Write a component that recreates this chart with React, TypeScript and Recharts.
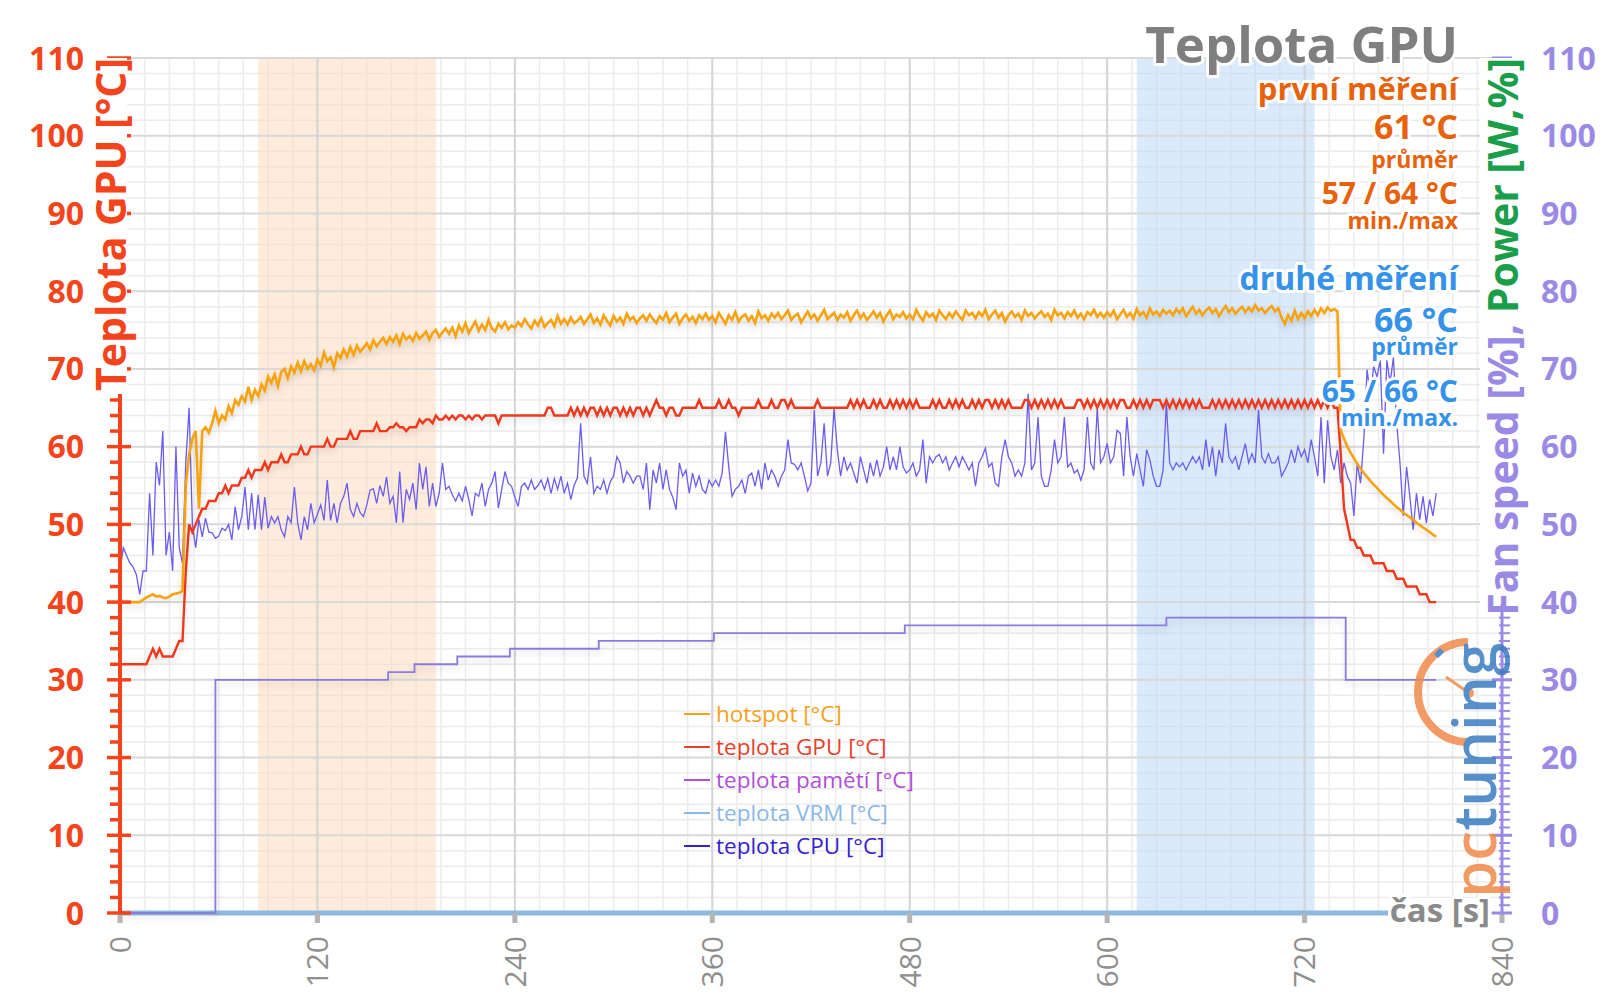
import {
  ComposedChart,
  Line,
  XAxis,
  YAxis,
  CartesianGrid,
  ReferenceArea,
  ReferenceLine,
} from "recharts";

const FONT = '"Open Sans", "Noto Sans", sans-serif';
const RED = "#f4441c";
const LAV = "#9b89e6";
const ORANGE_TXT = "#e8620c";
const BLUE_TXT = "#3592ea";

// vzorky po 2 s
const STEP = 2;

const HOTSPOT = [
  40, 40, 40, 40, 40, 40, 40, 40.3, 40.6, 40.8, 41, 40.7, 40.8, 40.6, 40.5, 40.7, 41, 41.1, 41.2, 41.4,
  55, 59, 61, 62, 52, 62, 62.5, 61.8, 63, 64.6, 63, 64, 63.5, 65.2, 64.3, 66, 65.4, 66.5, 65.8, 67.7,
  66, 67.3, 66.5, 68, 67.2, 69, 68.2, 69.3, 67.8, 69.6, 70, 68.8, 70.3, 69.5, 70.8, 69.7, 71, 70, 70.6, 69.8,
  71.2, 70.4, 72.1, 71, 71.5, 70.2, 72, 71.4, 72.5, 71.6, 72.8, 71.8, 73, 72.2, 72.7, 73.3, 72.5, 73.7, 72.9, 73.5,
  74, 73.2, 74.1, 73.5, 74.3, 73.2, 74.5, 73.8, 74.2, 73.6, 74.6, 73.9, 74.3, 74.8, 73.8, 74.6, 75, 74.1, 74.7, 75.2,
  74.5, 75.3, 74.2, 75.6, 74.8, 75.9, 74.6, 75.4, 76.1, 74.9, 75.7, 75, 76.3, 75.2, 74.8, 75.8, 75.3, 76, 75.1, 75.6,
  75.3, 76, 75.5, 76.4, 75.7, 75.2, 76.2, 75.6, 76.5, 75.4, 75.9, 76.3, 75.5, 76.8, 75.8, 76.4, 75.7, 76.6, 75.9, 76.2,
  76.7, 75.8, 76.4, 77, 75.9, 76.5, 75.7, 76.9, 76.2, 75.6, 76.8, 76.1, 76.6, 75.8, 77.1, 76.3, 76.7, 75.9, 76.5, 76.9,
  76.2, 77, 76.4, 75.9, 76.8, 76.3, 77.2, 76, 76.6, 77.1, 75.8, 76.5, 77, 76.2, 76.7, 75.9, 76.9, 76.4, 77.1, 76.3,
  76.8, 76, 77.2, 76.5, 75.8, 76.9, 76.3, 77.3, 76.1, 76.7, 77, 76.2, 76.8, 75.9, 77.4, 76.5, 76.9, 76.2, 77.1, 76.6,
  77.2, 76.4, 76.9, 77.5, 76.3, 76.8, 77.1, 76, 76.7, 77.4, 76.5, 77, 76.2, 76.9, 77.6, 76.4, 76.8, 77.2, 76.3, 77,
  76.6, 77.3, 76.2, 76.9, 77.5, 76.5, 77.1, 76.3, 76.8, 77.4, 76.6, 77.2, 76.1, 76.9, 77.5, 76.4, 77, 76.7, 77.3, 76.5,
  77, 76.4, 77.6, 76.8, 76.2, 77.3, 76.7, 77.1, 76.3, 77.5, 76.9, 76.4, 77.2, 76.6, 77.4, 76.8, 76.3, 77.5, 76.9, 77.2,
  76.5, 77.3, 76.8, 77.6, 76.4, 77, 77.5, 76.6, 77.2, 76.1, 76.9, 77.4, 76.7, 77.1, 76.3, 77.5, 76.8, 77.2, 76.5, 77,
  77.4, 76.7, 77.1, 76.3, 77.6, 76.9, 77.2, 76.5, 77.3, 76.8, 77.5, 76.6, 77.1, 76.4, 77.3, 76.9, 77.6, 76.7, 77.2, 76.6,
  77.3, 76.8, 77.5, 76.4, 77, 77.6, 76.7, 77.2, 76.5, 77.7, 76.9, 77.3, 76.6, 77.8, 77, 77.4, 76.8, 77.6, 77.1, 77.5,
  76.9, 77.7, 77.2, 77.8, 76.8, 77.4, 78, 77.1, 77.6, 76.9, 77.5, 77.9, 77.2, 77.7, 76.8, 77.5, 78.1, 77.3, 77.8, 77.1,
  77.6, 78, 77.3, 77.9, 77.4, 78.2, 77.5, 77.8, 77.2, 77.7, 78.1, 77.4, 77.8, 76.6, 75.8, 76.9, 76.2, 77.5, 76.4, 77.2,
  76.5, 77.4, 76.8, 77.6, 76.9, 77.8, 77.2, 77.9, 77.5, 77.7, 77.4, 62, 61, 60, 59.2, 58.5, 57.8, 57.2, 56.6, 56.1,
  55.6, 55.1, 54.7, 54.2, 53.8, 53.4, 53, 52.6, 52.2, 51.9, 51.5, 51.2, 50.9, 50.6, 50.2, 49.9, 49.6, 49.3, 49, 48.7,
  48.4,
];

const GPU = [
  32, 32, 32, 32, 32, 32, 32, 32, 32, 33, 34, 33, 34, 33, 33, 33, 33, 34, 35, 35,
  44, 50, 49, 50, 51, 52, 52, 53, 53, 53, 54, 54, 55, 54, 55, 55, 55, 56, 56, 57,
  56, 57, 57, 57, 58, 57, 58, 58, 58, 59, 58, 58, 59, 59, 59, 60, 59, 59, 60, 60,
  60, 60, 60, 61, 60, 60, 61, 61, 61, 61, 62, 61, 61, 62, 62, 62, 62, 62, 63, 62,
  62, 62, 62.5, 62.5, 63, 62.5, 62.5, 62, 62.5, 62.5, 62.5, 63.5, 63, 63.5, 63.5, 63, 64, 63.5, 63.5, 64,
  63.5, 64, 63.5, 64, 64, 63.5, 64, 63.5, 64, 64, 63.5, 64, 64, 64, 64, 63, 64, 64, 64, 64,
  64, 64, 64, 64, 64, 64, 64, 64, 64, 64, 65, 65, 64, 64, 64, 64, 64, 65, 64, 65,
  64, 65, 64, 65, 65, 64, 65, 64, 65, 64, 65, 65, 64, 65, 64, 65, 64, 65, 65, 64,
  65, 64, 65, 66, 65, 65, 64, 65, 65, 64, 64, 65, 65, 65, 65, 65, 66, 65, 65, 65,
  65, 65, 66, 65, 65, 66, 65, 65, 64, 65, 65, 65, 65, 65, 66, 65, 65, 65, 66, 65,
  65, 66, 66, 65, 66, 65, 65, 65, 65, 65, 65, 65, 66, 65, 65, 65, 65, 65, 65, 65,
  65, 65, 66, 65, 66, 65, 66, 65, 65, 66, 65, 66, 65, 65, 66, 65, 66, 65, 66, 65,
  66, 65, 66, 65, 65, 65, 65, 66, 65, 66, 65, 65, 66, 65, 66, 65, 66, 65, 65, 66,
  65, 66, 65, 66, 66, 65, 66, 65, 66, 65, 66, 65, 65, 65, 65, 66, 66, 65, 66, 65,
  66, 65, 66, 65, 66, 65, 66, 65, 65, 65, 65, 66, 66, 65, 66, 65, 66, 65, 66, 65,
  66, 65, 66, 65, 66, 66, 65, 65, 66, 65, 66, 65, 66, 65, 66, 66, 66, 65, 66, 65,
  66, 65, 66, 65, 66, 65, 66, 65, 66, 65, 65, 65, 66, 65, 66, 65, 66, 65, 66, 65,
  66, 65, 66, 65, 66, 65, 66, 65, 66, 65, 66, 65, 66, 65, 66, 65, 66, 65, 66, 65,
  66, 65, 66, 65, 66, 65, 66, 65, 66, 65, 65, 59, 52, 50, 48, 48, 47, 47, 46, 46,
  46, 45, 45, 45, 45, 44, 44, 44, 43, 43, 43, 42, 42, 42, 42, 41, 41, 41, 40, 40,
  40,
];

const CPU = [
  44, 47, 46, 45, 44.5, 43.5, 41, 44, 44, 54, 46, 58, 55, 62, 46, 49, 44, 60, 47, 45,
  58, 65, 50, 47, 50.6, 48.4, 50.8, 49, 48.9, 48.2, 48.5, 49.5, 49.2, 50, 48, 52.3, 49.3, 51, 54.8, 49.3,
  54, 49.3, 53.8, 49.3, 53.5, 49.5, 51, 50.2, 51, 49.3, 48.4, 51, 50.2, 54.8, 50.2, 48, 51, 49.3, 52.7, 50.2,
  51.3, 52.5, 50.5, 55.7, 50.5, 52.7, 50.2, 52.7, 53.6, 55.3, 51.9, 51, 52.7, 51.5, 51, 52.5, 54.4, 54.6, 52.7, 55,
  53.6, 56.1, 52.7, 53.6, 50.2, 56.8, 50.2, 54.5, 53.2, 55.3, 51.9, 57.9, 54.5, 57.4, 52.3, 55.3, 52.3, 54, 57.9, 54.5,
  54.9, 53.8, 53, 54, 53, 54.9, 53.2, 51.1, 54, 53.6, 55.3, 52.3, 54.5, 55.3, 56.8, 52.1, 54.5, 56.8, 55.3, 54.9,
  53.5, 52.3, 54.9, 55.3, 54.5, 55.7, 54.5, 55, 55.7, 54.5, 55.9, 54, 55.9, 54.5, 56.2, 54, 55.3, 53.2, 55, 56,
  63, 56.2, 55.3, 58.7, 54, 54.9, 54.5, 55.7, 54, 55.5, 56.2, 58.7, 57.9, 55.3, 56.8, 56.2, 55.3, 56.2, 56.2, 54.5,
  57.9, 51.9, 57, 55.3, 57.9, 54.5, 57, 54.5, 53.5, 51.9, 57.9, 56.2, 57, 54, 56.6, 54.9, 56.2, 54.5, 54, 55.7,
  54.9, 55.7, 54.9, 56.6, 61.9, 57.4, 53.6, 54.5, 54.9, 55.7, 54, 56.2, 56.6, 54.9, 57, 54.5, 57.9, 55.7, 57, 56.2,
  54.9, 56.2, 57, 60.9, 57.9, 57.7, 57, 57.9, 56.2, 54.3, 55.3, 64.7, 56.2, 57.9, 63, 56.2, 57.9, 64.9, 59.6, 56.2,
  58.7, 57, 57.9, 56.6, 55.3, 58.7, 57, 55.3, 57.9, 56.2, 58.3, 56.2, 57.4, 60, 57, 58.7, 57, 60, 57.4, 56.6,
  57, 57.9, 56.2, 57, 60.9, 55.3, 58.7, 57.9, 58.7, 59, 57.9, 58.7, 57, 57.9, 58.7, 57.4, 58.7, 57.9, 57, 57.9,
  54.9, 57.9, 58.7, 59.8, 57.4, 57.9, 55.3, 54.9, 58.7, 60.9, 58.7, 57.9, 56.2, 57, 56.2, 57.9, 66.8, 57, 57.9, 63.8,
  56.2, 54.9, 54.9, 57, 60.9, 57.9, 58.7, 63.8, 57.4, 57.9, 56.6, 57, 55.7, 57, 63.8, 57.9, 57, 64.9, 57.9, 58.7,
  60.4, 57.9, 58.7, 62.1, 61.7, 56.2, 63.8, 58.7, 56.2, 59.1, 57, 54.9, 59.6, 58.3, 56.2, 54.9, 54.9, 57, 65.5, 57.9,
  57, 57.9, 57.4, 57.9, 57, 57.9, 58.7, 57.9, 58.7, 57, 60.9, 57.4, 60, 56.2, 59.6, 57.9, 63, 58.7, 57.9, 58.7,
  57, 58.7, 60.4, 57.9, 59.1, 57.9, 64.7, 58.7, 57.9, 59.1, 57.9, 57.9, 58.7, 56.2, 57, 57.9, 59.6, 57.9, 60, 58.7,
  59.6, 57.9, 60.9, 58.7, 56.2, 63.8, 55.3, 63.4, 58.7, 57, 59.6, 55.3, 57.9, 56.2, 55.3, 51.1, 57.9, 55.3, 60.9, 69.9,
  66.5, 70.3, 69, 71.1, 59.1, 71.1, 68.2, 71.5, 63, 57.9, 51.1, 57.4, 53.6, 49.3, 54, 50.6, 53.6, 50.2, 53.2, 51.1,
  54,
];

// otáčky ventilátoru – body změny úrovně
const FAN_TIMES = [0, 58, 163, 179, 205, 237, 291, 361, 477, 636, 745, 800];
const FAN_VALUES = [0, 30, 31, 32, 33, 34, 35, 36, 37, 38, 30, 30];

const VRM_TIMES = [0, 800];
const VRM_VALUES = [0, 0];

const X_LABELS = [0, 120, 240, 360, 480, 600, 720, 840];
const Y_LABELS = [0, 10, 20, 30, 40, 50, 60, 70, 80, 90, 100, 110];

const FIRST_RUN = [84, 192];
const SECOND_RUN = [618, 726];

const LEGEND_LABELS = [
  "hotspot [°C]",
  "teplota GPU [°C]",
  "teplota pamětí [°C]",
  "teplota VRM [°C]",
  "teplota CPU [°C]",
];
const LEGEND_COLORS = ["#f5a21b", "#e8402a", "#b04fd8", "#8ab8e6", "#3520d0"];

const data = HOTSPOT.map((h, i) => ({ t: i * STEP, hotspot: h, gpu: GPU[i], cpu: CPU[i] }));
const fanData = FAN_TIMES.map((t, i) => ({ t, fan: FAN_VALUES[i] }));
const vrmData = VRM_TIMES.map((t, i) => ({ t, vrm: VRM_VALUES[i] }));

const X_GRID = Array.from({ length: 57 }, (_, i) => i * 15);
const L_TICKS = Array.from({ length: 56 }, (_, i) => i * 2);
const R_TICKS = Array.from({ length: 111 }, (_, i) => i);

function LeftTick({ x, y, payload }: any) {
  const v = payload.value;
  const major = v % 10 === 0;
  return (
    <g>
      <line x1={major ? x - 13 : x - 10} x2={major ? x + 11 : x} y1={y} y2={y} stroke={RED} strokeWidth={3.5} />
      {major && (
        <text x={x - 36} y={y} dy="0.36em" textAnchor="end" fill={RED} fontSize={32} fontWeight={700} fontFamily={FONT}>
          {v}
        </text>
      )}
    </g>
  );
}

function RightTick({ x, y, payload }: any) {
  const v = payload.value;
  const major = v % 10 === 0;
  return (
    <g>
      <line x1={major ? x - 10 : x - 3} x2={major ? x + 10 : x + 8} y1={y} y2={y} stroke={LAV} strokeWidth={major ? 3 : 2} />
      {major && (
        <text x={x + 39} y={y} dy="0.36em" textAnchor="start" fill={LAV} fontSize={32} fontWeight={700} fontFamily={FONT}>
          {v}
        </text>
      )}
    </g>
  );
}

function BottomTick({ x, y, payload }: any) {
  const v = payload.value;
  if (v % 120 !== 0) return <g />;
  return (
    <g>
      <rect x={x - 2.5} y={y} width={5} height={10} fill="#b4b4b4" />
      <text
        transform={`translate(${x},${y + 23}) rotate(-90)`}
        dy="0.36em"
        textAnchor="end"
        fill="#8f8f8f"
        fontSize={30}
        fontFamily={FONT}
      >
        {v}
      </text>
    </g>
  );
}

function Overlay() {
  const halo = { stroke: "#fff", strokeWidth: 6, paintOrder: "stroke" as const, strokeLinejoin: "round" as const };
  const right = 1458;
  return (
    <svg width={1600} height={1008} style={{ position: "absolute", left: 0, top: 0, pointerEvents: "none" }}>
      {/* logo */}
      <g opacity={0.85}>
        <path d="M 1468 642 A 50 50 0 0 0 1468 742" fill="none" stroke="#f08a4b" strokeWidth={8} />
        <line x1={1469} y1={693} x2={1446} y2={677} stroke="#f08a4b" strokeWidth={3} />
        <circle cx={1469} cy={693} r={5} fill="#f08a4b" />
        <line x1={1436} y1={656} x2={1442} y2={650} stroke="#3a7cc2" strokeWidth={6} />
        <text transform="translate(1496,898) rotate(-90)" fontSize={60} fontWeight={600} fontFamily={FONT}>
          <tspan fill="#f08a4b">pc</tspan>
          <tspan fill="#3a7cc2">tuning</tspan>
        </text>
      </g>

      {/* axis titles */}
      <rect x={92} y={58} width={35} height={336} fill="#fff" />
      <text transform="translate(126,58) rotate(-90)" textAnchor="end" fill={RED} fontSize={41} fontWeight={700} fontFamily={FONT}>
        Teplota GPU [°C]
      </text>
      <rect x={1480} y={58} width={42} height={546} fill="#fff" />
      <text transform="translate(1518,58) rotate(-90)" textAnchor="end" fontSize={41} fontWeight={700} fontFamily={FONT}>
        <tspan fill={LAV}>Fan speed [%], </tspan>
        <tspan fill="#1a9e4a">Power [W,%]</tspan>
      </text>

      {/* title + stats */}
      <g fontFamily={FONT} fontWeight={700} textAnchor="end">
        <text x={right} y={63} fontSize={51} fill="#7f7f7f" {...halo}>Teplota GPU</text>
        <text x={right} y={100} fontSize={31} fill={ORANGE_TXT} {...halo}>první měření</text>
        <text x={right} y={139} fontSize={34} fill={ORANGE_TXT} {...halo}>61 °C</text>
        <text x={right} y={168} fontSize={23} fill={ORANGE_TXT} {...halo}>průměr</text>
        <text x={right} y={204} fontSize={30} fill={ORANGE_TXT} {...halo}>57 / 64 °C</text>
        <text x={right} y={229} fontSize={23} fill={ORANGE_TXT} {...halo}>min./max</text>
        <text x={right} y={290} fontSize={32} fill={BLUE_TXT} {...halo}>druhé měření</text>
        <text x={right} y={332} fontSize={34} fill={BLUE_TXT} {...halo}>66 °C</text>
        <text x={right} y={355} fontSize={23} fill={BLUE_TXT} {...halo}>průměr</text>
        <text x={right} y={402} fontSize={30} fill={BLUE_TXT} {...halo}>65 / 66 °C</text>
        <text x={right} y={426} fontSize={23} fill={BLUE_TXT} {...halo}>min./max.</text>
      </g>

      {/* x axis title */}
      <rect x={1388} y={898} width={100} height={22} fill="#fff" />
      <text x={1490} y={922} textAnchor="end" fontSize={33} fontWeight={700} fill="#8a8a8a" fontFamily={FONT} {...halo}>
        čas [s]
      </text>

      {/* legend */}
      {LEGEND_LABELS.map((label, i) => (
        <g key={label}>
          <line x1={684} x2={710} y1={714 + i * 33} y2={714 + i * 33} stroke={LEGEND_COLORS[i]} strokeWidth={2} />
          <text x={716} y={714 + i * 33} dy="0.35em" fontSize={22.5} fill={LEGEND_COLORS[i]} fontFamily={FONT}>
            {label}
          </text>
        </g>
      ))}
    </svg>
  );
}

export default function App() {
  return (
    <div style={{ position: "absolute", left: 0, top: 0, width: 1600, height: 1008, background: "#fff" }}>
      <style>{`.shadowed .recharts-line-curve { filter: drop-shadow(0px 4px 3px rgba(0,0,0,0.14)); }`}</style>
      <ComposedChart width={1600} height={1008} data={data} margin={{ top: 58, right: 0, bottom: 0, left: 0 }}>
        <CartesianGrid yAxisId="l" stroke="#ececec" strokeWidth={1.5} />
        <XAxis
          dataKey="t"
          type="number"
          domain={[0, 840]}
          ticks={X_GRID}
          interval={0}
          height={95}
          tickSize={0}
          tickMargin={0}
          axisLine={false}
          tickLine={false}
          tick={<BottomTick />}
        />
        <YAxis
          yAxisId="l"
          orientation="left"
          width={120}
          domain={[0, 110]}
          ticks={L_TICKS}
          interval={0}
          tickSize={0}
          tickMargin={0}
          tickLine={false}
          axisLine={{ stroke: RED, strokeWidth: 4 }}
          tick={<LeftTick />}
        />
        <YAxis
          yAxisId="r"
          orientation="right"
          width={98}
          domain={[0, 110]}
          ticks={R_TICKS}
          interval={0}
          tickSize={0}
          tickMargin={0}
          tickLine={false}
          axisLine={{ stroke: LAV, strokeWidth: 3 }}
          tick={<RightTick />}
        />
        {Y_LABELS.map((v) => (
          <ReferenceLine key={`y${v}`} yAxisId="l" y={v} stroke="#d9d9d9" strokeWidth={2} />
        ))}
        {X_LABELS.map((v) => (
          <ReferenceLine key={`x${v}`} yAxisId="l" x={v} stroke="#d4d4d4" strokeWidth={2} />
        ))}
        <ReferenceArea yAxisId="l" x1={FIRST_RUN[0]} x2={FIRST_RUN[1]} y1={0} y2={110} fill="#fcdcc0" fillOpacity={0.55} />
        <ReferenceArea yAxisId="l" x1={SECOND_RUN[0]} x2={SECOND_RUN[1]} y1={0} y2={110} fill="#bcd9f8" fillOpacity={0.55} />
        <Line yAxisId="l" data={vrmData} dataKey="vrm" stroke="#8db8e0" strokeWidth={5} dot={false} isAnimationActive={false} />
        <Line className="shadowed" yAxisId="r" data={fanData} dataKey="fan" type="stepAfter" stroke="#8a7cdc" strokeWidth={1.8} dot={false} isAnimationActive={false} />
        <Line yAxisId="r" dataKey="cpu" stroke="#6b5cf0" strokeWidth={1.3} dot={false} isAnimationActive={false} />
        <Line className="shadowed" yAxisId="l" dataKey="gpu" stroke="#f0381c" strokeWidth={2.4} dot={false} isAnimationActive={false} />
        <Line className="shadowed" yAxisId="l" dataKey="hotspot" stroke="#f7a30f" strokeWidth={2.6} dot={false} isAnimationActive={false} />
      </ComposedChart>
      <Overlay />
    </div>
  );
}
